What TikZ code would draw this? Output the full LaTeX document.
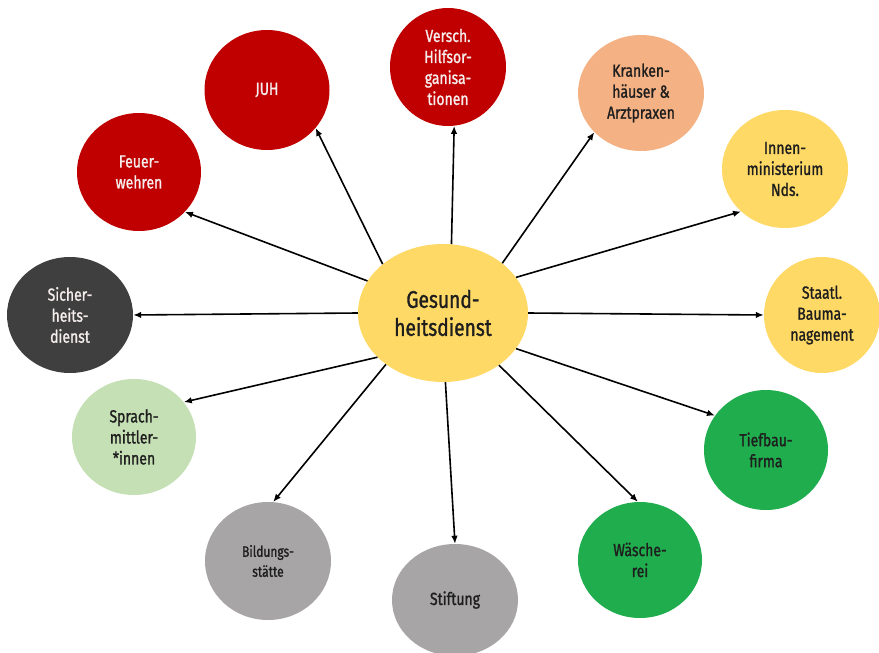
\documentclass[tikz,border=0pt]{standalone}
\usepackage{fontspec}
\setmainfont[FakeStretch=0.8,FakeBold=1.2]{Fira Sans}
\usetikzlibrary{shapes.geometric,arrows.meta}
\definecolor{hubyellow}{HTML}{FFD966}
\definecolor{rescuered}{HTML}{C00000}
\definecolor{clinicorange}{HTML}{F4B183}
\definecolor{securitygrey}{HTML}{3F3F3F}
\definecolor{palegreen}{HTML}{C5E0B4}
\definecolor{firmgreen}{HTML}{1FAD4E}
\definecolor{stonegrey}{HTML}{A7A5A5}
\definecolor{inkdark}{HTML}{1E1E1E}
\definecolor{inklight}{HTML}{F6EDED}
\tikzset{
  bubble/.style={ellipse, inner sep=0pt, align=center,
    font=\fontsize{17.5}{21}\selectfont, text=inkdark},
  redbubble/.style={bubble, fill=rescuered, text=inklight},
  link/.style={draw=black, line width=1.6pt,
    -{Latex[length=8pt,width=6.5pt]}}
}
\begin{document}
\begin{tikzpicture}[x=1pt,y=-1pt]
\useasboundingbox (0,0) rectangle (879,653);

% hub
\node[bubble, fill=hubyellow, minimum width=170pt, minimum height=138pt,
      font=\fontsize{24}{28}\selectfont] (hub) at (443,313) {Gesund-\\heitsdienst};

% surrounding partners
\node[redbubble, minimum width=124pt, minimum height=118pt] (fw) at (139,172) {Feuer-\\wehren};
\node[redbubble, minimum width=125pt, minimum height=120pt] (juh) at (267,90) {JUH};
\node[redbubble, minimum width=116pt, minimum height=118pt] (ho) at (448,67) {Versch.\\Hilfsor-\\ganisa-\\tionen};
\node[bubble, fill=clinicorange, minimum width=126pt, minimum height=116pt] (kh) at (641,93) {Kranken-\\häuser \&\\Arztpraxen};
\node[bubble, fill=hubyellow, minimum width=126pt, minimum height=118pt] (im) at (785,169) {Innen-\\ministerium\\Nds.};
\node[bubble, fill=hubyellow, minimum width=116pt, minimum height=116pt] (sb) at (822,315) {Staatl.\\Bauma-\\nagement};
\node[bubble, fill=firmgreen, minimum width=124pt, minimum height=120pt] (tb) at (766,450) {Tiefbau-\\firma};
\node[bubble, fill=firmgreen, minimum width=124pt, minimum height=116pt] (ws) at (640,560) {Wäsche-\\rei};
\node[bubble, fill=stonegrey, minimum width=126pt, minimum height=112pt] (st) at (455,600) {Stiftung};
\node[bubble, fill=stonegrey, minimum width=126pt, minimum height=118pt,
      font=\fontsize{15}{20}\selectfont] (bs) at (268,561) {Bildungs-\\stätte};
\node[bubble, fill=palegreen, minimum width=124pt, minimum height=116pt] (sm) at (134,437) {Sprach-\\mittler-\\*innen};
\node[bubble, fill=securitygrey, text=inklight, minimum width=126pt, minimum height=116pt] (sd) at (70,315) {Sicher-\\heits-\\dienst};

% connectors from the hub
\draw[link] (hub.157) -- (fw.-41);
\draw[link] (hub.141) -- (juh.-38);
\draw[link] (hub.83)  -- (ho.-84);
\draw[link] (hub.40)  -- (kh.-140);
\draw[link] (hub.26)  -- (im.-136);
\draw[link] (hub.0)   -- (sb.180);
\draw[link] (hub.-26) -- (tb.146);
\draw[link] (hub.-43) -- (ws.92);
\draw[link] (hub.-88) -- (st.90);
\draw[link] (hub.-138) -- (bs.85);
\draw[link] (hub.-146) -- (sm.35);
\draw[link] (hub.180) -- (sd.0);
\end{tikzpicture}
\end{document}
